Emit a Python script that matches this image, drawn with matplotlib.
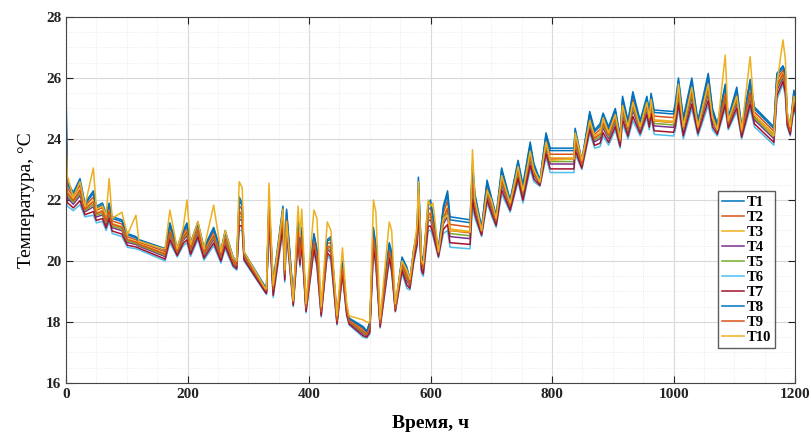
import numpy as np
import matplotlib
matplotlib.use('Agg')
import matplotlib.pyplot as plt
from matplotlib.ticker import MultipleLocator

plt.rcParams['font.family'] = ['Liberation Serif', 'DejaVu Serif']

# время, ч
t = [0, 2, 12, 23, 31, 45, 50, 60, 66, 71, 76, 92, 101, 115, 120, 160, 163, 171,
     183, 193, 199, 205, 217, 227, 243, 255, 262, 275, 281, 285, 290, 293, 328,
     330, 334, 341, 357, 360, 363, 374, 382, 385, 388, 395, 408, 413, 420, 430,
     436, 446, 455, 462, 466, 489, 495, 500, 506, 510, 517, 532, 536, 542, 553,
     561, 566, 572, 578, 580, 585, 588, 596, 600, 604, 613, 621, 628, 632, 665,
     669, 673, 684, 693, 700, 708, 717, 731, 744, 752, 764, 770, 780, 790, 797,
     836, 838, 849, 862, 870, 879, 884, 893, 904, 912, 916, 925, 933, 945, 956,
     960, 963, 968, 1000, 1003, 1008, 1016, 1030, 1040, 1057, 1064, 1072, 1085,
     1090, 1104, 1112, 1126, 1133, 1165, 1170, 1180, 1184, 1187, 1192, 1198, 1200]

# верхняя граница пучка кривых
upper = [25.8, 22.6, 22.25, 22.7, 21.9, 22.3, 21.8, 21.9, 21.55, 21.9, 21.45, 21.35,
         20.9, 20.8, 20.7, 20.43, 20.4, 21.25, 20.45, 21.0, 21.25, 20.6, 21.28, 20.45,
         21.1, 20.35, 21.0, 20.13, 20.0, 22.1, 21.9, 20.3, 19.15, 19.15, 22.0, 19.3,
         21.8, 19.8, 21.7, 18.8, 21.3, 20.3, 21.1, 18.6, 20.9, 20.4, 18.5, 20.7,
         20.8, 18.16, 20.0, 18.5, 18.13, 17.85, 17.7, 18.0, 21.1, 20.5, 18.07, 20.6,
         20.3, 18.5, 20.13, 19.8, 19.4, 20.36, 21.0, 22.75, 20.2, 20.0, 21.9, 22.0,
         21.5, 20.4, 21.8, 22.3, 21.45, 21.35, 23.2, 22.2, 21.1, 22.65, 22.1, 21.5,
         23.05, 22.0, 23.3, 22.5, 23.9, 23.2, 22.65, 24.2, 23.7, 23.7, 24.35, 23.3,
         24.9, 24.3, 24.5, 24.85, 24.4, 25.0, 24.1, 25.4, 24.6, 25.55, 24.6, 25.4,
         24.9, 25.5, 24.95, 24.9, 25.2, 26.0, 24.7, 26.0, 24.6, 26.15, 25.0, 24.5,
         25.8, 24.7, 25.7, 24.4, 25.95, 25.05, 24.4, 26.15, 26.4, 26.2, 24.85, 24.4,
         25.6, 25.4]

# нижняя граница пучка кривых
lower = [22.0, 21.8, 21.65, 21.85, 21.45, 21.5, 21.25, 21.3, 21.0, 21.3, 20.9, 20.8,
         20.45, 20.4, 20.37, 20.03, 20.0, 20.6, 20.13, 20.5, 20.6, 20.15, 20.7, 20.03,
         20.5, 19.93, 20.4, 19.8, 19.7, 21.0, 21.0, 20.0, 18.95, 18.9, 21.2, 18.8,
         21.0, 19.3, 20.9, 18.5, 20.6, 19.8, 20.5, 18.3, 20.3, 19.8, 18.16, 20.2,
         20.0, 17.9, 19.5, 18.2, 17.9, 17.5, 17.47, 17.6, 20.3, 19.8, 17.8, 20.0,
         19.6, 18.33, 19.6, 19.1, 19.05, 19.9, 20.5, 21.5, 19.6, 19.5, 21.0, 21.0,
         20.8, 20.1, 20.9, 21.0, 20.45, 20.4, 21.8, 21.4, 20.8, 21.9, 21.5, 21.1,
         22.2, 21.6, 22.6, 21.9, 23.0, 22.6, 22.45, 23.4, 22.9, 22.9, 23.5, 23.0,
         24.2, 23.7, 23.75, 24.1, 23.8, 24.3, 23.7, 24.5, 24.0, 24.6, 24.1, 24.7,
         24.3, 24.7, 24.15, 24.1, 24.3, 25.0, 24.0, 25.0, 24.1, 25.1, 24.3, 24.1,
         25.0, 24.3, 24.9, 24.0, 25.0, 24.4, 23.8, 25.3, 25.8, 25.4, 24.4, 24.1,
         25.0, 24.8]

# T10 (жёлтая) отдельно: её пики выше остальных
t10 = [23.8, 22.8, 22.1, 22.6, 21.8, 23.05, 21.7, 21.8, 21.5, 22.7, 21.4, 21.6,
       20.85, 21.5, 20.65, 20.4, 20.4, 21.67, 20.4, 21.1, 22.0, 20.55, 21.3, 20.4,
       21.83, 20.3, 21.0, 20.1, 20.0, 22.6, 22.4, 20.3, 19.1, 19.1, 22.55, 19.2,
       21.7, 19.7, 21.3, 18.7, 21.8, 20.8, 21.7, 18.6, 21.67, 21.4, 18.5, 21.28,
       21.0, 18.2, 20.43, 18.6, 18.2, 18.07, 18.0, 18.0, 22.0, 21.6, 18.1, 21.28,
       21.0, 18.6, 20.0, 19.7, 19.4, 20.3, 21.2, 22.6, 20.0, 19.9, 22.0, 21.8,
       21.9, 20.3, 21.4, 21.5, 21.0, 20.95, 23.65, 22.0, 21.0, 22.3, 22.0, 21.4,
       22.8, 21.9, 23.1, 22.3, 23.6, 23.0, 22.6, 23.9, 23.3, 23.35, 24.2, 23.3,
       24.6, 24.1, 24.2, 24.7, 24.2, 24.8, 24.0, 25.1, 24.4, 25.2, 24.4, 25.2,
       24.7, 25.3, 24.6, 24.55, 24.8, 25.8, 24.4, 25.7, 24.4, 25.8, 24.7, 24.3,
       26.75, 24.6, 25.4, 24.3, 26.7, 24.8, 24.1, 25.8, 27.25, 26.6, 24.9, 24.4,
       25.4, 25.2]

names = ['T1', 'T2', 'T3', 'T4', 'T5', 'T6', 'T7', 'T8', 'T9', 'T10']
# положение датчика внутри пучка (0 - нижняя граница, 1 - верхняя)
position = [1.0, 0.75, 0.6, 0.35, 0.45, 0.0, 0.15, 0.9, 0.55]

colors = ['#0072BD', '#D95319', '#EDB120', '#7E2F8E', '#77AC30',
          '#4DBEEE', '#A2142F', '#0072BD', '#D95319', '#EDB120']

t = np.array(t)
upper = np.array(upper)
lower = np.array(lower)

fig = plt.figure(figsize=(8.11, 4.37), dpi=100)
ax = fig.add_axes([0.0814, 0.1236, 0.899, 0.8375])

for i, name in enumerate(names):
    if name == 'T10':
        y = t10
    else:
        y = lower + position[i] * (upper - lower)
    ax.plot(t, y, color=colors[i], linewidth=1.1, label=name)

ax.set_xlim(0, 1200)
ax.set_ylim(16, 28)
ax.xaxis.set_major_locator(MultipleLocator(200))
ax.xaxis.set_minor_locator(MultipleLocator(50))
ax.yaxis.set_major_locator(MultipleLocator(2))
ax.yaxis.set_minor_locator(MultipleLocator(0.5))
ax.grid(True, which='major', color='#d9d9d9', linewidth=0.8)
ax.grid(True, which='minor', color='#e6e6e6', linewidth=0.6, linestyle=':')
ax.tick_params(which='both', direction='in', top=True, right=True)
ax.tick_params(which='major', length=5, labelsize=11, colors='#222222')
ax.tick_params(which='minor', length=0)
for lab in ax.get_xticklabels() + ax.get_yticklabels():
    lab.set_fontweight('bold')
for s in ax.spines.values():
    s.set_color('#444444')

ax.set_xlabel('Время, ч', fontsize=14, fontweight='bold', labelpad=10)
ax.set_ylabel('Температура, °C', fontsize=14, labelpad=8)

leg = ax.legend(loc='lower right', bbox_to_anchor=(0.9726, 0.0956),
                borderaxespad=0, handlelength=1.5, handletextpad=0.15,
                labelspacing=0.12, borderpad=0.3, fancybox=False,
                prop={'family': 'Liberation Serif', 'weight': 'bold', 'size': 10.5})
leg.get_frame().set_edgecolor('#333333')
leg.get_frame().set_linewidth(1.0)

fig.savefig('out.png', dpi=100)
